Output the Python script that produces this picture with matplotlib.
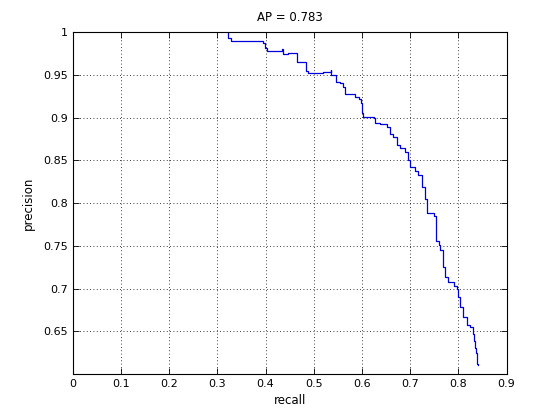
import matplotlib
matplotlib.use("Agg")
import matplotlib.pyplot as plt

# precision/recall curve vertices
recall = [0.323, 0.323, 0.328, 0.328, 0.370, 0.370, 0.395, 0.395, 0.399, 0.399,
          0.403, 0.403, 0.434, 0.434, 0.437, 0.437, 0.447, 0.447, 0.466, 0.466,
          0.484, 0.484, 0.489, 0.489, 0.520, 0.535, 0.535, 0.544, 0.546, 0.554,
          0.561, 0.565, 0.579, 0.586, 0.593, 0.598, 0.600, 0.603, 0.624, 0.627,
          0.638, 0.651, 0.658, 0.665, 0.672, 0.679, 0.689, 0.696, 0.700, 0.710,
          0.717, 0.724, 0.731, 0.734, 0.745, 0.750, 0.754, 0.759, 0.762, 0.768,
          0.772, 0.779, 0.790, 0.798, 0.800, 0.804, 0.810, 0.817, 0.824, 0.830,
          0.832, 0.835, 0.837, 0.839, 0.841]
precision = [1.000, 0.993, 0.993, 0.989, 0.989, 0.990, 0.990, 0.987, 0.987, 0.981,
             0.981, 0.978, 0.978, 0.980, 0.980, 0.974, 0.974, 0.975, 0.975, 0.965,
             0.965, 0.954, 0.954, 0.952, 0.953, 0.955, 0.950, 0.950, 0.942, 0.940,
             0.936, 0.928, 0.927, 0.924, 0.922, 0.917, 0.905, 0.901, 0.900, 0.893,
             0.892, 0.889, 0.881, 0.877, 0.868, 0.864, 0.860, 0.850, 0.842, 0.838,
             0.833, 0.819, 0.805, 0.788, 0.788, 0.785, 0.756, 0.751, 0.745, 0.725,
             0.713, 0.708, 0.703, 0.700, 0.690, 0.678, 0.667, 0.657, 0.655, 0.647,
             0.639, 0.631, 0.624, 0.612, 0.610]
ap = 0.783

xticks = [0, 0.1, 0.2, 0.3, 0.4, 0.5, 0.6, 0.7, 0.8, 0.9]
yticks = [0.65, 0.7, 0.75, 0.8, 0.85, 0.9, 0.95, 1]

fig = plt.figure(figsize=(5.6, 4.2), dpi=100)
ax = fig.add_axes([0.13, 0.1095, 0.7745, 0.8143])
ax.plot(recall, precision, color=(0.0, 0.0, 0.85), linewidth=0.9,
        drawstyle="steps-post")

ax.set_xlim(0, 0.9)
ax.set_ylim(0.6, 1)
ax.set_xticks(xticks)
ax.set_xticklabels([f"{v:g}" for v in xticks])
ax.set_yticks(yticks)
ax.set_yticklabels([f"{v:g}" for v in yticks])
ax.tick_params(direction="in", top=True, right=True, labelsize=8, length=4, width=0.6)
ax.grid(True, color="black", linestyle=(0, (1, 3)), linewidth=0.6)
for s in ax.spines.values():
    s.set_linewidth(0.8)

ax.set_xlabel("recall", fontsize=8.5, labelpad=4)
ax.set_ylabel("precision", fontsize=8.5, labelpad=6)
ax.set_title(f"AP = {ap:.3f}", fontsize=8.5, pad=8)

fig.savefig("out.png", dpi=100)
